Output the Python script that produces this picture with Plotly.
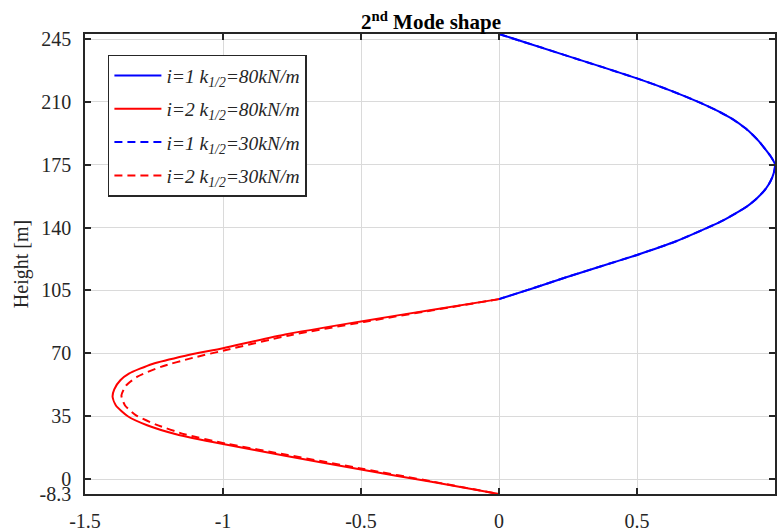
import plotly.graph_objects as go

# ---- data ----
blue_h = [247.8, 235.5, 223.1, 216.3, 209.6, 205.0, 200.8, 195.3, 191.7, 188.0, 184.4, 180.0,
          177.0, 175.3, 172.0, 168.0, 164.0, 160.0, 156.0, 152.0, 148.9, 144.0, 139.7,
          132.0, 124.8, 118.5, 112.1, 106.0, 100.2]
blue_x_80 = [0.0, 0.25, 0.5, 0.622, 0.728, 0.792, 0.842, 0.893, 0.919, 0.942, 0.961, 0.983,
             0.995, 1.0, 0.998, 0.99, 0.977, 0.958, 0.932, 0.9, 0.868, 0.812, 0.752,
             0.635, 0.5, 0.37, 0.238, 0.118, 0.0]
blue_x_30 = [0.0, 0.25, 0.5, 0.622, 0.728, 0.792, 0.842, 0.893, 0.919, 0.942, 0.961, 0.983,
             0.995, 1.0, 0.998, 0.99, 0.977, 0.958, 0.932, 0.9, 0.868, 0.812, 0.752,
             0.635, 0.5, 0.37, 0.238, 0.118, 0.0]

red_h_80 = [100.2, 94.2, 87.8, 80.5, 72.9, 68.7, 64.1, 58.7, 55.0, 50.0, 45.7, 41.0,
            35.0, 30.0, 25.0, 19.5, 13.0, 5.3, -1.5, -8.3]
red_x_80 = [0.0, -0.245, -0.5, -0.775, -1.0, -1.136, -1.256, -1.341, -1.372, -1.394, -1.400,
            -1.388, -1.345, -1.275, -1.17, -1.0, -0.775, -0.5, -0.245, 0.0]

red_h_30 = [100.2, 94.0, 87.5, 80.0, 72.0, 67.5, 62.5, 57.0, 52.0, 46.5, 41.0, 35.5,
            30.5, 25.0, 19.8, 13.4, 5.6, -1.4, -8.3]
red_x_30 = [0.0, -0.24, -0.49, -0.76, -0.985, -1.11, -1.225, -1.31, -1.352, -1.368, -1.355,
            -1.315, -1.245, -1.14, -0.99, -0.765, -0.49, -0.24, 0.0]

y_ticks = [-8.3, 0, 35, 70, 105, 140, 175, 210, 245]
y_tick_text = ["-8.3", "0", "35", "70", "105", "140", "175", "210", "245"]
x_ticks = [-1.5, -1, -0.5, 0, 0.5, 1]
x_tick_text = ["-1.5", "-1", "-0.5", "0", "0.5", "1"]

names = [
    "<i>i=1 k<sub>1/2</sub>=80kN/m</i>",
    "<i>i=2 k<sub>1/2</sub>=80kN/m</i>",
    "<i>i=1 k<sub>1/2</sub>=30kN/m</i>",
    "<i>i=2 k<sub>1/2</sub>=30kN/m</i>",
]

FONT = "Liberation Serif"
BLUE = "rgb(0,0,255)"
RED = "rgb(255,0,0)"

series = [
    (blue_x_80, blue_h, BLUE, "solid"),
    (red_x_80, red_h_80, RED, "solid"),
    (blue_x_30, blue_h, BLUE, "8px,5px"),
    (red_x_30, red_h_30, RED, "8px,5px"),
]

fig = go.Figure()
for i, (xs, hs, col, dash) in enumerate(series):
    fig.add_trace(go.Scatter(
        x=xs, y=hs, mode="lines", name=names[i], legendgroup=f"g{i}",
        line=dict(color=col, width=2, dash=dash, shape="spline", smoothing=0.6)))

axis_common = dict(
    showgrid=True, gridcolor="rgb(218,218,218)", gridwidth=1,
    showline=True, linecolor="rgb(38,38,38)", linewidth=1.5, mirror="ticks",
    ticks="inside", ticklen=6, tickwidth=1.5, tickcolor="rgb(38,38,38)",
    zeroline=False,
    tickfont=dict(family=FONT, size=20, color="rgb(38,38,38)"),
)

fig.update_layout(
    width=777, height=532,
    margin=dict(l=85, r=0, t=34, b=30),
    paper_bgcolor="white", plot_bgcolor="white",
    title=dict(text="<b>2<sup>nd</sup> Mode shape</b>", x=0.5547, xanchor="center",
               y=1 - 22 / 532, yanchor="middle", yref="container",
               font=dict(family=FONT, size=21, color="black")),
    xaxis=dict(range=[-1.5, 1], tickvals=x_ticks, ticktext=x_tick_text,
               ticklabelstandoff=8, **axis_common),
    yaxis=dict(range=[-8.3, 247.8], tickvals=y_ticks, ticktext=y_tick_text,
               ticklabelstandoff=8,
               title=dict(text="Height [m]", standoff=6,
                          font=dict(family=FONT, size=20, color="rgb(38,38,38)")),
               **axis_common),
    legend=dict(x=0.0332, y=0.955, xanchor="left", yanchor="top",
                bgcolor="white", bordercolor="rgb(38,38,38)", borderwidth=1.5,
                itemwidth=47, tracegroupgap=5,
                font=dict(family=FONT, size=19.5, color="rgb(38,38,38)")),
    showlegend=True,
)

fig.write_html("out.html")
